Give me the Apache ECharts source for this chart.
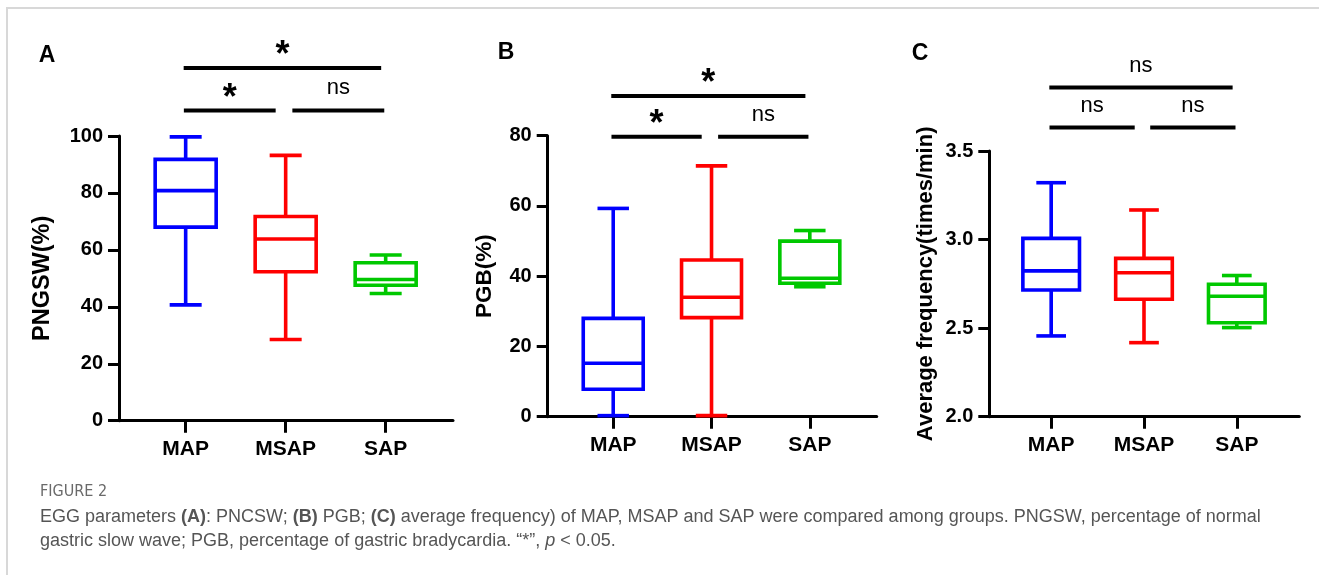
<!DOCTYPE html>
<html>
<head>
<meta charset="utf-8">
<script src="https://cdn.jsdelivr.net/npm/echarts@6/dist/echarts.min.js"></script>
<style>
html,body{margin:0;padding:0;background:#fff;overflow:hidden;}
#frame{position:absolute;left:6px;top:7px;width:1400px;height:700px;border-top:2px solid #d8d8d8;border-left:2px solid #d8d8d8;}
#chart{position:absolute;left:0;top:0;width:1319px;height:575px;}
</style>
</head>
<body>
<div id="frame"></div>
<div id="chart"></div>
<script>
// ---------- data ----------
const categories = ['MAP', 'MSAP', 'SAP'];
// each: [min, Q1, median, Q3, max]
const pngswMAP  = [40.7, 68.0, 80.8, 91.8, 99.7];
const pngswMSAP = [28.5, 52.3, 63.8, 71.7, 93.2];
const pngswSAP  = [44.7, 47.6, 49.6, 55.5, 58.2];

const pgbMAP  = [0.3, 7.8, 15.2, 28.0, 59.3];
const pgbMSAP = [0.3, 28.2, 34.0, 44.6, 71.4];
const pgbSAP  = [37.0, 38.0, 39.4, 50.0, 53.0];

const freqMAP  = [2.456, 2.715, 2.823, 3.007, 3.321];
const freqMSAP = [2.418, 2.663, 2.813, 2.894, 3.167];
const freqSAP  = [2.503, 2.530, 2.680, 2.748, 2.797];

const yTicksA = [0, 20, 40, 60, 80, 100];
const yTicksB = [0, 20, 40, 60, 80];
const yTicksC = [2.0, 2.5, 3.0, 3.5];

// comparisons: [group i, group j, label, bracket level (data units)]
const sigA = [[0, 1, '*', 109.0], [1, 2, 'ns', 109.0], [0, 2, '*', 123.9]];
const sigB = [[0, 1, '*', 79.7], [1, 2, 'ns', 79.7], [0, 2, '*', 91.3]];
const sigC = [[0, 1, 'ns', 3.632], [1, 2, 'ns', 3.632], [0, 2, 'ns', 3.858]];

const yNames = ['PNGSW(%)', 'PGB(%)', 'Average frequency(times/min)'];
const panelLetters = ['A', 'B', 'C'];

// ---------- layout / style ----------
const groupColors = ['#0000FF', '#FF0000', '#00C800'];
const FONT = '"Liberation Sans", Arial, Helvetica, sans-serif';
const NARROW = '"Liberation Sans Narrow", "DejaVu Sans Condensed", "Liberation Sans", sans-serif';
const catOffset = 2 / 3;
const catPos = categories.map((c, i) => i + catOffset);

function boxRender(params, api) {
  const x = api.value(0);
  const v = [1, 2, 3, 4, 5].map(k => api.value(k));
  const unit = api.size([1, 0])[0];
  const half = unit * 0.305, capHalf = unit * 0.16;
  const c = val => api.coord([x, val]);
  const pMin = c(v[0]), pQ1 = c(v[1]), pMed = c(v[2]), pQ3 = c(v[3]), pMax = c(v[4]);
  const color = groupColors[params.dataIndex];
  const ls = { stroke: color, lineWidth: 3.6, fill: 'none' };
  const ln = (x1, y1, x2, y2) => ({ type: 'line', shape: { x1, y1, x2, y2 }, style: ls });
  return {
    type: 'group',
    children: [
      ln(pMax[0], pMax[1], pQ3[0], pQ3[1]),
      ln(pQ1[0], pQ1[1], pMin[0], pMin[1]),
      ln(pMax[0] - capHalf, pMax[1], pMax[0] + capHalf, pMax[1]),
      ln(pMin[0] - capHalf, pMin[1], pMin[0] + capHalf, pMin[1]),
      { type: 'rect', shape: { x: pQ3[0] - half, y: pQ3[1], width: 2 * half, height: pQ1[1] - pQ3[1] }, style: ls },
      ln(pMed[0] - half, pMed[1], pMed[0] + half, pMed[1])
    ]
  };
}

function sigRender(sig) {
  return function (params, api) {
    const s = sig[params.dataIndex];
    const i = s[0], j = s[1], label = s[2], level = s[3];
    let a, b;
    if (j - i > 1) { a = catPos[i] - 0.02; b = catPos[j] - 0.045; }
    else if (i === 0) { a = catPos[i] - 0.018; b = catPos[j] - 0.1; }
    else { a = catPos[i] + 0.067; b = catPos[j] - 0.014; }
    const p1 = api.coord([a, level]);
    const p2 = api.coord([b, level]);
    const mid = (p1[0] + p2[0]) / 2;
    const isStar = label === '*';
    return {
      type: 'group',
      children: [
        { type: 'line', shape: { x1: p1[0], y1: p1[1], x2: p2[0], y2: p2[1] }, style: { stroke: '#000', lineWidth: 4 } },
        {
          type: 'text', x: mid, y: isStar ? p1[1] - 11.5 : p1[1] - 22,
          style: {
            text: label, fill: '#000', fontFamily: FONT,
            fontSize: isStar ? 36 : 22, fontWeight: isStar ? 'bold' : 'normal',
            align: 'center', verticalAlign: 'middle'
          }
        }
      ]
    };
  };
}

const boxSets = [
  [pngswMAP, pngswMSAP, pngswSAP],
  [pgbMAP, pgbMSAP, pgbSAP],
  [freqMAP, freqMSAP, freqSAP]
];
const sigSets = [sigA, sigB, sigC];
const yTickSets = [yTicksA, yTicksB, yTicksC];

const grids = [
  { left: 119, top: 136, width: 334, height: 284.7 },
  { left: 547.7, top: 135.7, width: 329, height: 281 },
  { left: 989.3, top: 151, width: 310, height: 265.7 }
];
const nameGaps = [64, 51, 52];
const nameSizes = [23.5, 22.5, 22];
const xMax = [3.34, 3.347, 3.34];
const letterPos = [[47, 56], [506, 53], [920, 54]];

const axisLineStyle = { color: '#000', width: 3 };

const option = {
  animation: false,
  backgroundColor: 'transparent',
  grid: grids.map(g => Object.assign({ containLabel: false, outerBoundsMode: 'none' }, g)),
  xAxis: grids.map((g, k) => ({
    type: 'value', gridIndex: k, min: 0, max: xMax[k],
    axisLine: { show: true, onZero: false, lineStyle: axisLineStyle },
    axisTick: { show: true, customValues: catPos, length: 12, lineStyle: axisLineStyle },
    axisLabel: {
      show: true, customValues: catPos, margin: 18,
      formatter: val => categories[Math.round(val - catOffset)] || '',
      fontSize: 21, fontWeight: 'bold', color: '#000', fontFamily: FONT
    },
    splitLine: { show: false }
  })),
  yAxis: grids.map((g, k) => {
    const t = yTickSets[k];
    return {
      type: 'value', gridIndex: k, min: t[0], max: t[t.length - 1], interval: t[1] - t[0],
      name: yNames[k], nameLocation: 'middle', nameGap: nameGaps[k],
      nameTextStyle: { fontSize: nameSizes[k], fontWeight: 'bold', color: '#000', fontFamily: FONT },
      axisLine: { show: true, onZero: false, lineStyle: axisLineStyle },
      axisTick: { show: true, length: 11, lineStyle: axisLineStyle },
      axisLabel: {
        margin: 16, fontSize: 20, fontWeight: 'bold', color: '#000', fontFamily: FONT,
        formatter: val => (k === 2 ? val.toFixed(1) : String(val))
      },
      splitLine: { show: false }
    };
  }),
  series: [].concat(
    boxSets.map((set, k) => ({
      type: 'custom', xAxisIndex: k, yAxisIndex: k, silent: true, clip: false,
      renderItem: boxRender,
      encode: { x: 0, y: [1, 2, 3, 4, 5] },
      data: set.map((vals, i) => [catPos[i]].concat(vals))
    })),
    sigSets.map((sig, k) => ({
      type: 'custom', xAxisIndex: k, yAxisIndex: k, silent: true, clip: false,
      renderItem: sigRender(sig),
      encode: { x: 0, y: 1 },
      data: sig.map(s => [catPos[s[0]], s[3]])
    }))
  ),
  graphic: [].concat(
    panelLetters.map((L, k) => ({
      type: 'text', x: letterPos[k][0], y: letterPos[k][1],
      style: { text: L, fontSize: 23, fontWeight: 'bold', fill: '#000', fontFamily: FONT, align: 'center', verticalAlign: 'middle' }
    })),
    [
      {
        type: 'text', x: 40, y: 492,
        style: { text: 'FIGURE 2', fontSize: 16, fill: '#6a6a6a', fontFamily: NARROW, align: 'left', verticalAlign: 'middle' }
      },
      {
        type: 'text', x: 40, y: 517,
        style: {
          text: 'EGG parameters {b|(A)}: PNCSW; {b|(B)} PGB; {b|(C)} average frequency) of MAP, MSAP and SAP were compared among groups. PNGSW, percentage of normal',
          fontSize: 18, fill: '#555', fontFamily: FONT, align: 'left', verticalAlign: 'middle',
          rich: { b: { fontSize: 18, fontWeight: 'bold', fill: '#555', fontFamily: FONT } }
        }
      },
      {
        type: 'text', x: 40, y: 541,
        style: {
          text: 'gastric slow wave; PGB, percentage of gastric bradycardia. \u201c*\u201d, {i|p} < 0.05.',
          fontSize: 18, fill: '#555', fontFamily: FONT, align: 'left', verticalAlign: 'middle',
          rich: { i: { fontSize: 18, fontStyle: 'italic', fill: '#555', fontFamily: FONT } }
        }
      }
    ]
  )
};

const chart = echarts.init(document.getElementById('chart'), null, { renderer: 'canvas' });
chart.setOption(option);
</script>
</body>
</html>
